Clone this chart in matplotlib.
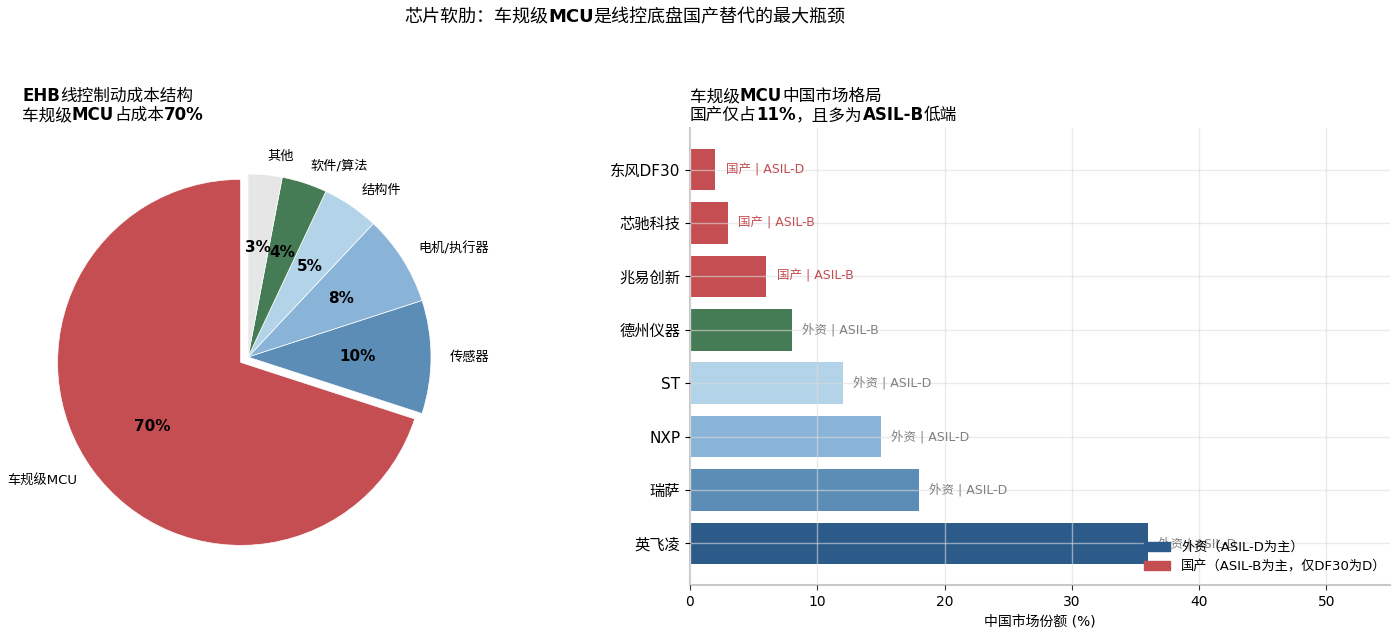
import numpy as np
import matplotlib.pyplot as plt
from matplotlib.patches import Patch

plt.rcParams['font.family'] = ['DejaVu Sans', 'Noto Sans CJK SC']

# --- 数据 --- #
cost_labels = ['车规级MCU', '传感器', '电机/执行器', '结构件', '软件/算法', '其他']
cost_values = [70, 10, 8, 5, 4, 3]
cost_colors = ['#c44e52', '#5b8db6', '#89b4d8', '#b3d3e8', '#457b55', '#e6e6e6']

vendors = ['英飞凌', '瑞萨', 'NXP', 'ST', '德州仪器', '兆易创新', '芯驰科技', '东风DF30']
shares = [36, 18, 15, 12, 8, 6, 3, 2]
origin = ['外资', '外资', '外资', '外资', '外资', '国产', '国产', '国产']
asil = ['ASIL-D', 'ASIL-D', 'ASIL-D', 'ASIL-D', 'ASIL-B', 'ASIL-B', 'ASIL-B', 'ASIL-D']
bar_colors = ['#2c5b8a', '#5b8db6', '#89b4d8', '#b3d3e8', '#457b55', '#c44e52', '#c44e52', '#c44e52']

fig = plt.figure(figsize=(13.96, 6.32), dpi=100)


def rich_text(x, y, parts, size):
    # 粗细混排的文字, 逐段接在上一段右侧
    s, w = parts[0]
    prev = fig.text(x, y, s, fontsize=size, fontweight=w, va='baseline', ha='left')
    for s, w in parts[1:]:
        t = plt.Annotation(s, xy=(1, 0), xycoords=prev, fontsize=size,
                           fontweight=w, va='bottom', ha='left')
        fig.add_artist(t)
        prev = t
    return prev


def px(xp, yp):
    return xp / 1396, 1 - yp / 632


# 总标题
rich_text(*px(404, 22), [('芯片软肋：车规级', 'normal'), ('MCU', 'bold'),
                         ('是线控底盘国产替代的最大瓶颈', 'normal')], 13)

# --- 左: 饼图 --- #
ax1 = fig.add_axes([(248 - 228.75) / 1396, (632 - 357 - 228.75) / 632, 457.5 / 1396, 457.5 / 632])
wedges, texts, autotexts = ax1.pie(
    cost_values, labels=cost_labels, colors=cost_colors, startangle=90,
    explode=[0.05, 0, 0, 0, 0, 0], autopct='%d%%', pctdistance=0.6, labeldistance=1.1,
    wedgeprops=dict(edgecolor='white', linewidth=0.5), textprops=dict(fontsize=9.5))
for t in autotexts:
    t.set_fontsize(11)
    t.set_fontweight('bold')
ax1.set_xlim(-1.25, 1.25)
ax1.set_ylim(-1.25, 1.25)
ax1.set_aspect('equal')

rich_text(*px(22, 101), [('EHB', 'bold'), ('线控制动成本结构', 'normal')], 12)
rich_text(*px(22, 120), [('车规级', 'normal'), ('MCU', 'bold'), ('占成本', 'normal'),
                         ('70%', 'bold')], 12)

# --- 右: 横向条形图 --- #
ax2 = fig.add_axes([690 / 1396, 1 - 585 / 632, 700 / 1396, (585 - 128) / 632])
y = np.arange(len(vendors))
ax2.barh(y, shares, color=bar_colors, height=0.78, zorder=1)
ax2.grid(True, color='#dddddd', alpha=0.6, linewidth=1, zorder=2)
ax2.set_axisbelow(False)
ax2.set_yticks(y)
ax2.set_yticklabels(vendors, fontsize=11)
ax2.set_xlim(0, 55)
ax2.set_xlabel('中国市场份额 (%)', fontsize=10)
ax2.tick_params(axis='x', labelsize=10, color='#333333')
for sp in ['top', 'right']:
    ax2.spines[sp].set_visible(False)
for sp in ['left', 'bottom']:
    ax2.spines[sp].set_color('#c8c8c8')
    ax2.spines[sp].set_linewidth(1.5)

for i in range(len(vendors)):
    c = '#c44e52' if origin[i] == '国产' else '#808080'
    ax2.text(shares[i] + 0.8, y[i], f'{origin[i]} | {asil[i]}', va='center', ha='left',
             fontsize=9, color=c)

handles = [Patch(color='#2c5b8a', label='外资（ASIL-D为主）'),
           Patch(color='#c44e52', label='国产（ASIL-B为主，仅DF30为D）')]
ax2.legend(handles=handles, loc='lower right', frameon=False, fontsize=9.5,
           bbox_to_anchor=(1.012, 0.0), labelspacing=0.45, handlelength=2.0)

rich_text(*px(690, 101), [('车规级', 'normal'), ('MCU', 'bold'), ('中国市场格局', 'normal')], 12)
rich_text(*px(690, 120), [('国产仅占', 'normal'), ('11%', 'bold'), ('，且多为', 'normal'),
                          ('ASIL-B', 'bold'), ('低端', 'normal')], 12)

fig.savefig('out.png', dpi=100)
